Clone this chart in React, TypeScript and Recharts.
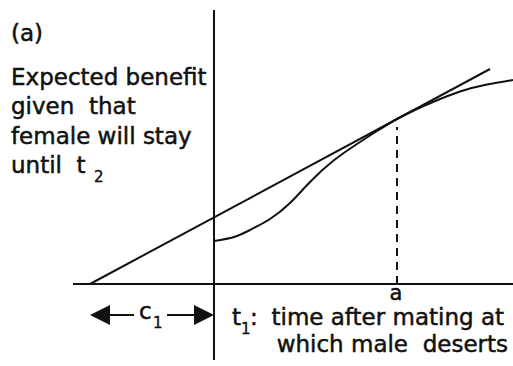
import React from 'react';
import { LineChart, Line, XAxis, YAxis, ReferenceLine } from 'recharts';

// t1 (time after mating) and expected benefit along the curve
const curveT = [0, 0.2, 0.36, 0.56, 0.76, 0.96, 1.19, 1.43, 1.63, 1.83, 2.03, 2.19, 2.46, 2.73, 2.99];
const curveBenefit = [0.43, 0.47, 0.54, 0.65, 0.81, 1.02, 1.23, 1.4, 1.53, 1.65, 1.75, 1.82, 1.925, 1.995, 2.04];

// straight line from -c1 on the axis, touching the curve at a
const tangentT = [-1.24, 2.76];
const tangentBenefit = [0, 2.15];

const cOne = 1.24;
const optimumA = 1.83;
const optimumTop = 1.57;
const arrowLevel = -0.31;

const xDomain: [number, number] = [-1.41, 2.99];
const yDomain: [number, number] = [-0.76, 2.74];

const curveData = curveT.map((t, i) => ({ t, benefit: curveBenefit[i] }));
const tangentData = tangentT.map((t, i) => ({ t, benefit: tangentBenefit[i] }));

const INK = '#111';
const FONT = '"DejaVu Sans", sans-serif';

const textStyle = {
  fontSize: 23,
  fontFamily: FONT,
  fill: INK,
  stroke: INK,
  strokeWidth: 0.5,
  style: { whiteSpace: 'pre' },
} as const;

const subStyle = { ...textStyle, fontSize: 15, strokeWidth: 0.4 } as const;

// double-headed arrow with the c1 label in a gap in the middle
const C1Arrow = (props: any) => {
  const { x1, y1, x2 } = props;
  const head = 20;
  return (
    <g>
      <polygon points={`${x1},${y1} ${x1 + head},${y1 - 10} ${x1 + head},${y1 + 10}`} fill={INK} />
      <polygon points={`${x2},${y1} ${x2 - head},${y1 - 10} ${x2 - head},${y1 + 10}`} fill={INK} />
      <line x1={x1 + head} y1={y1} x2={x1 + 44} y2={y1} stroke={INK} strokeWidth={2} />
      <line x1={x1 + 77} y1={y1} x2={x2 - head} y2={y1} stroke={INK} strokeWidth={2} />
      <text x={x1 + 49} y={y1 + 4} {...textStyle}>c</text>
      <text x={x1 + 63} y={y1 + 13} {...subStyle}>1</text>
    </g>
  );
};

export default function App() {
  return (
    <div style={{ position: 'fixed', left: 0, top: 0, width: 513, height: 366, background: 'white' }}>
      <LineChart
        width={513}
        height={366}
        margin={{ top: 10, right: 0, bottom: 6, left: 73 }}
      >
        <XAxis type="number" dataKey="t" domain={xDomain} allowDataOverflow hide />
        <YAxis type="number" dataKey="benefit" domain={yDomain} allowDataOverflow hide />
        <ReferenceLine y={0} stroke={INK} strokeWidth={2} />
        <ReferenceLine x={0} stroke={INK} strokeWidth={2} />
        <ReferenceLine
          segment={[{ x: optimumA, y: 0 }, { x: optimumA, y: optimumTop }]}
          stroke={INK}
          strokeWidth={2}
          strokeDasharray="8 6"
        />
        <ReferenceLine
          segment={[{ x: -cOne, y: arrowLevel }, { x: 0, y: arrowLevel }]}
          shape={C1Arrow}
        />
        <Line
          data={tangentData}
          dataKey="benefit"
          type="linear"
          stroke={INK}
          strokeWidth={2}
          dot={false}
          isAnimationActive={false}
        />
        <Line
          data={curveData}
          dataKey="benefit"
          type="natural"
          stroke={INK}
          strokeWidth={2}
          dot={false}
          isAnimationActive={false}
        />
      </LineChart>
      <svg
        width={513}
        height={366}
        style={{ position: 'absolute', left: 0, top: 0, pointerEvents: 'none' }}
      >
        <text x={11} y={41} {...textStyle}>(a)</text>
        <text x={11} y={85} {...textStyle}>Expected benefit</text>
        <text x={11} y={114} {...textStyle}>given  that</text>
        <text x={11} y={144} {...textStyle}>female will stay</text>
        <text x={11} y={173} {...textStyle}>until  t</text>
        <text x={94} y={182} {...subStyle}>2</text>
        <text x={396} y={300} textAnchor="middle" {...textStyle} fontSize={21}>a</text>
        <text x={232} y={325} {...textStyle}>t</text>
        <text x={241} y={334} {...subStyle}>1</text>
        <text x={250} y={325} {...textStyle}>:</text>
        <text x={504} y={325} textAnchor="end" {...textStyle}>time after mating at</text>
        <text x={508} y={352} textAnchor="end" {...textStyle}>which male  deserts</text>
      </svg>
    </div>
  );
}
